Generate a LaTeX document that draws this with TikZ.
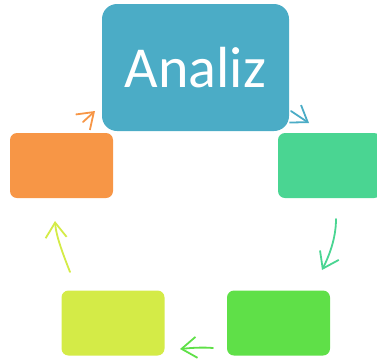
\documentclass[tikz,border=0pt]{standalone}
\usepackage{fontspec}
\setmainfont{Carlito}
\usetikzlibrary{arrows.meta}
\definecolor{topblue}{HTML}{4BACC6}
\definecolor{teal}{HTML}{4AD592}
\definecolor{lgreen}{HTML}{5FE048}
\definecolor{lime}{HTML}{D4EB47}
\definecolor{orng}{HTML}{F79646}
\begin{document}
\begin{tikzpicture}[x=1pt,y=-1pt,
  box/.style={inner sep=0pt,rounded corners=7pt,minimum width=103pt,minimum height=65pt},
  arr/.style={line width=1.8pt,line cap=round,line join=round,
    -{Straight Barb[length=15pt,width=21pt,line width=1.8pt]}}]
\useasboundingbox (0,0) rectangle (377,360);
\node [box,fill=topblue,rounded corners=15pt,minimum width=187pt,minimum height=127pt,
  text=white,font=\fontsize{58}{60}\selectfont] (ana) at (195.5,67.5) {Analiz};
\node [box,fill=teal] (rbox) at (329.5,165.5) {};
\node [box,fill=lgreen] (gbox) at (278.5,323) {};
\node [box,fill=lime] (ybox) at (113,323) {};
\node [box,fill=orng] (obox) at (61.5,165.5) {};
\coordinate (a1) at (291,111);
\coordinate (a2) at (309,123);
\coordinate (b1) at (336,219);
\coordinate (b2) at (322,270);
\coordinate (c1) at (213,348);
\coordinate (c2) at (180,349);
\coordinate (d1) at (70,272);
\coordinate (d2) at (55,221);
\coordinate (e1) at (83,122);
\coordinate (e2) at (95,111);
\draw [arr,topblue] (a1) -- (a2);
\draw [arr,teal] (b1) .. controls (336,240) and (328,258) .. (b2);
\draw [arr,lgreen] (c1) .. controls (202,347) and (190,348) .. (c2);
\draw [arr,lime] (d1) .. controls (63,254) and (56,236) .. (d2);
\draw [arr,orng] (e1) -- (e2);
\end{tikzpicture}
\end{document}
